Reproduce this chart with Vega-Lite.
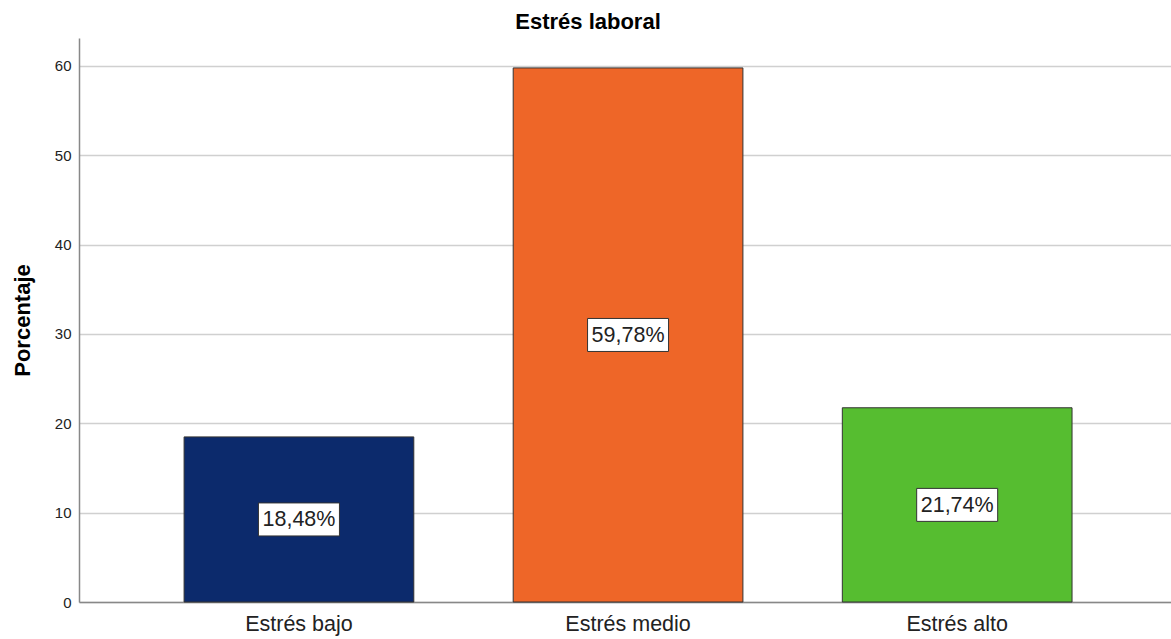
{
  "$schema": "https://vega.github.io/schema/vega-lite/v6.json",
  "autosize": {"type": "none"},
  "width": 1092,
  "height": 564,
  "padding": {"left": 79, "top": 38, "right": 0, "bottom": 37},
  "background": "white",
  "title": {"text": "Estrés laboral", "font": "Liberation Sans", "fontSize": 22, "fontWeight": "bold", "color": "#000000", "offset": 4, "dx": -37},
  "config": {"view": {"stroke": null}},
  "data": {"values": [
    {"cat": "Estrés bajo", "value": 18.48, "label": "18,48%"},
    {"cat": "Estrés medio", "value": 59.78, "label": "59,78%"},
    {"cat": "Estrés alto", "value": 21.74, "label": "21,74%"}
  ]},
  "transform": [{"calculate": "datum.value / 2", "as": "mid"}],
  "encoding": {
    "x": {"field": "cat", "type": "nominal", "sort": null,
      "scale": {"paddingInner": 0.302, "paddingOuter": 0.31, "align": 0.515},
      "axis": {"title": null, "labelAngle": 0, "labelFont": "Liberation Sans", "labelFontSize": 21.5, "labelColor": "#222222", "ticks": false, "labelPadding": 11, "domainColor": "#888888", "domainWidth": 1.5}}
  },
  "layer": [
    {
      "mark": {"type": "bar", "stroke": "#333333", "strokeWidth": 1},
      "encoding": {
        "y": {"field": "value", "type": "quantitative",
          "scale": {"domain": [0, 63.13], "nice": false},
          "axis": {"title": "Porcentaje", "titleFont": "Liberation Sans", "titleFontSize": 22, "titleFontWeight": "bold", "titleColor": "#000000", "titlePadding": 20,
            "values": [0, 10, 20, 30, 40, 50, 60], "labelFont": "Liberation Sans", "labelFontSize": 15, "labelColor": "#222222", "ticks": false, "labelPadding": 8,
            "grid": true, "gridColor": "#d0d0d0", "gridWidth": 1.5, "domainColor": "#888888", "domainWidth": 1.5}},
        "color": {"field": "cat", "type": "nominal", "sort": null, "legend": null,
          "scale": {"domain": ["Estrés bajo", "Estrés medio", "Estrés alto"], "range": ["#0c2a6c", "#ee6628", "#56bd30"]}}
      }
    },
    {
      "mark": {"type": "rect", "width": 81, "fill": "white", "stroke": "#333333", "strokeWidth": 1, "yOffset": 16.5, "y2Offset": -16.5},
      "encoding": {
        "y": {"field": "mid", "type": "quantitative"},
        "y2": {"field": "mid"}
      }
    },
    {
      "mark": {"type": "text", "font": "Liberation Sans", "fontSize": 21.5, "color": "#222222", "baseline": "middle", "align": "center", "dy": 1},
      "encoding": {
        "y": {"field": "mid", "type": "quantitative"},
        "text": {"field": "label"}
      }
    }
  ]
}
